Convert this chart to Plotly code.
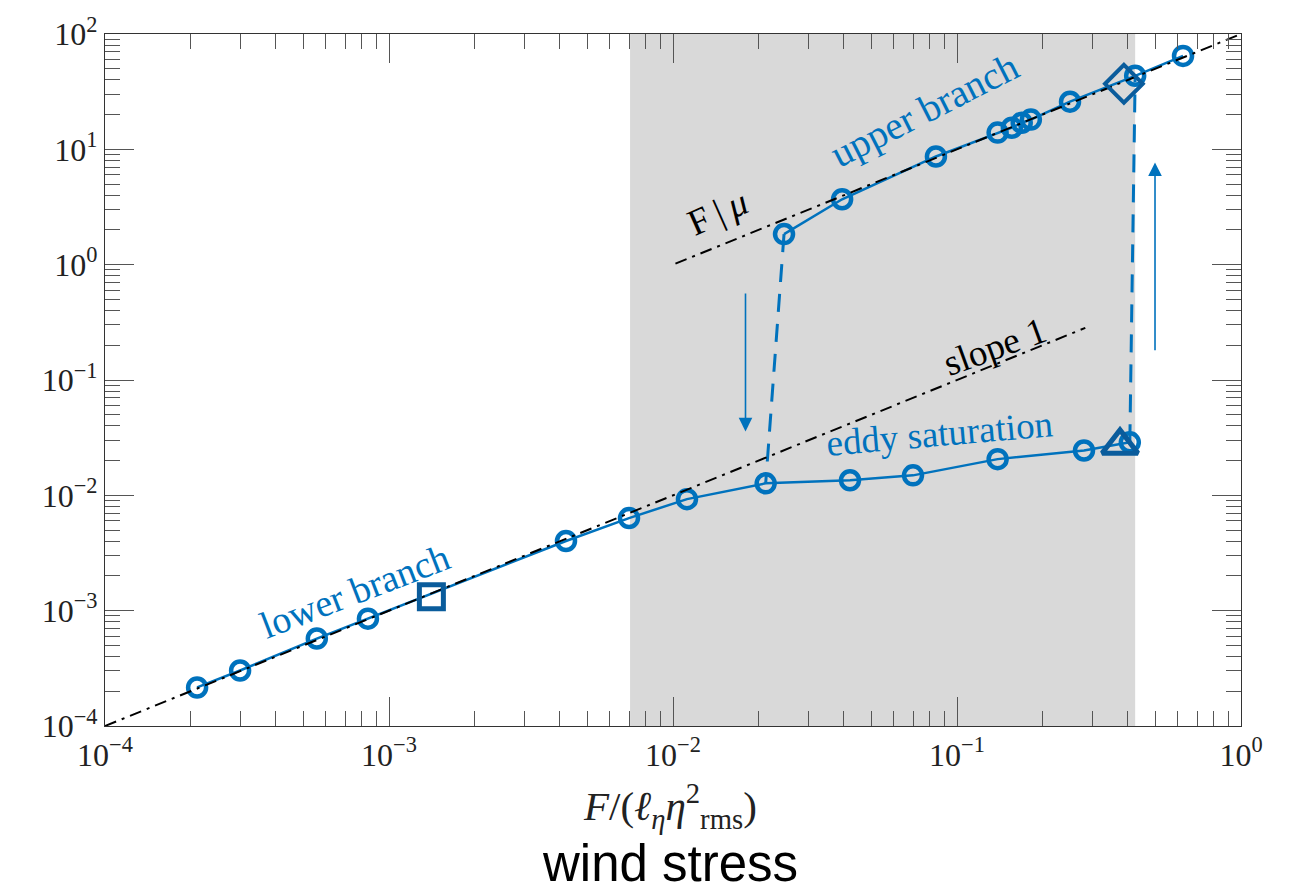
import numpy as np
import plotly.graph_objects as go

# ---------------- data ----------------
lower_x = [2.11e-4, 2.99e-4, 5.57e-4, 8.43e-4, 4.2e-3, 7.0e-3, 0.0112, 0.0212, 0.042, 0.070, 0.139, 0.28, 0.406]
lower_y = [2.16e-4, 3.03e-4, 5.73e-4, 8.53e-4, 4.02e-3, 6.35e-3, 9.27e-3, 0.0127, 0.0135, 0.0149, 0.0206, 0.0245, 0.0288]
upper_x = [0.0246, 0.0394, 0.0843, 0.139, 0.156, 0.169, 0.182, 0.25, 0.424, 0.625]
upper_y = [1.84, 3.69, 8.67, 13.96, 15.4, 17.0, 18.1, 25.9, 43.4, 64.6]
square_x, square_y = [1.41e-3], [1.32e-3]
triangle_x, triangle_y = [0.375], [0.0271]
diamond_x, diamond_y = [0.387], [37.0]

# transition (dashed) lines
drop_x, drop_y = [0.0246, 0.0212], [1.84, 0.0127]
jump_x, jump_y = [0.406, 0.424], [0.0288, 43.4]

# reference lines
mu = 0.01
fmu_x = [0.0102, 1.0]
slope1_x = [1e-4, 0.283]

# shaded bistable region
shade_x = [0.00706, 0.424]

# arrows (tail -> head)
arrow_down = dict(x=0.0180, y_tail=0.58, y_head=0.0358)
arrow_up = dict(x=0.498, y_tail=0.176, y_head=7.7)

tick_vals = [1e-4, 1e-3, 1e-2, 1e-1, 1e0]
tick_text_x = ["10<sup>−4</sup>", "10<sup>−3</sup>", "10<sup>−2</sup>", "10<sup>−1</sup>", "10<sup>0</sup>"]
ytick_vals = [1e-4, 1e-3, 1e-2, 1e-1, 1e0, 1e1, 1e2]
tick_text_y = ["10<sup>−4</sup>", "10<sup>−3</sup>", "10<sup>−2</sup>", "10<sup>−1</sup>", "10<sup>0</sup>", "10<sup>1</sup>", "10<sup>2</sup>"]

BLUE = "#0072BD"
DARK = "#0A5C9C"
SERIF = "Liberation Serif"

minor_x = [k * 10.0 ** e for e in range(-4, 0) for k in range(2, 10)]
minor_y = [k * 10.0 ** e for e in range(-4, 2) for k in range(2, 10)]

fig = go.Figure()

# dashed transitions
fig.add_trace(go.Scatter(x=drop_x, y=drop_y, mode="lines",
                         line=dict(color=BLUE, width=3, dash="18px,12px"), showlegend=False))
fig.add_trace(go.Scatter(x=jump_x, y=jump_y, mode="lines",
                         line=dict(color=BLUE, width=3, dash="18px,12px"), showlegend=False))

# branches
fig.add_trace(go.Scatter(x=lower_x, y=lower_y, mode="lines+markers",
                         line=dict(color=BLUE, width=2.5),
                         marker=dict(symbol="circle-open", size=18, color=BLUE, line=dict(width=4.5)),
                         showlegend=False))
fig.add_trace(go.Scatter(x=upper_x, y=upper_y, mode="lines+markers",
                         line=dict(color=BLUE, width=2.5),
                         marker=dict(symbol="circle-open", size=18, color=BLUE, line=dict(width=4.5)),
                         showlegend=False))

# reference lines
fig.add_trace(go.Scatter(x=fmu_x, y=[v / mu for v in fmu_x], mode="lines",
                         line=dict(color="black", width=2, dash="12px,6px,3px,6px"), showlegend=False))
fig.add_trace(go.Scatter(x=slope1_x, y=slope1_x, mode="lines",
                         line=dict(color="black", width=2, dash="12px,6px,3px,6px"), showlegend=False))

# special markers
fig.add_trace(go.Scatter(x=square_x, y=square_y, mode="markers",
                         marker=dict(symbol="square-open", size=24, color=DARK, line=dict(width=5)),
                         showlegend=False))
fig.add_trace(go.Scatter(x=triangle_x, y=triangle_y, mode="markers",
                         marker=dict(symbol="triangle-up-open", size=31, color=DARK, line=dict(width=5)),
                         showlegend=False))
fig.add_trace(go.Scatter(x=diamond_x, y=diamond_y, mode="markers",
                         marker=dict(symbol="diamond-open", size=29, color=DARK, line=dict(width=4)),
                         showlegend=False))

fig.add_shape(type="rect", xref="x", yref="paper", x0=shade_x[0], x1=shade_x[1], y0=0, y1=1,
              fillcolor="#D9D9D9", line=dict(width=0), layer="below")

L = np.log10
for a in (arrow_down, arrow_up):
    fig.add_annotation(x=L(a["x"]), y=L(a["y_head"]), ax=L(a["x"]), ay=L(a["y_tail"]),
                       xref="x", yref="y", axref="x", ayref="y", text="", showarrow=True,
                       arrowhead=2, arrowsize=1.7, arrowwidth=1.6, arrowcolor=BLUE)

labels = [
    ("upper branch", 0.0770, 22.0, -27, BLUE, 39),
    ("F\u2009|\u2009<i>μ</i>", 0.0143, 2.84, -24, "black", 37),
    ("slope 1", 0.136, 0.194, -20, "black", 37),
    ("eddy saturation", 0.0871, 0.0344, -5, BLUE, 37),
    ("lower branch", 7.59e-4, 1.49e-3, -21, BLUE, 38),
]
for t, x, y, ang, c, s in labels:
    fig.add_annotation(x=L(x), y=L(y), xref="x", yref="y", text=t, showarrow=False,
                       textangle=ang, xanchor="center", yanchor="middle",
                       font=dict(family=SERIF, size=s, color=c))

fig.add_annotation(x=0.497, y=-0.115, xref="paper", yref="paper", showarrow=False,
                   xanchor="center", yanchor="middle",
                   text="<i>F</i>/(<i>ℓ</i><sub><i>η</i></sub><i>η</i><sup>2</sup><sub>rms</sub>)",
                   font=dict(family=SERIF, size=41, color="#222"))
fig.add_annotation(x=0.497, y=-0.198, xref="paper", yref="paper", showarrow=False,
                   xanchor="center", yanchor="middle",
                   text="wind stress", font=dict(family="Liberation Sans", size=51, color="black"))

axis_common = dict(type="log", showgrid=False, zeroline=False, showline=True,
                   linecolor="#333", linewidth=1.2, mirror="allticks", ticks="inside",
                   ticklen=29, tickwidth=1.2, tickcolor="#555",
                   tickfont=dict(family=SERIF, size=32, color="#222"), tickmode="array")

fig.update_xaxes(**axis_common, range=[-4, 0], tickvals=tick_vals, ticktext=tick_text_x,
                 minor=dict(ticks="inside", ticklen=15, tickwidth=1.2, tickcolor="#555",
                            tickmode="array", tickvals=minor_x, showgrid=False))
fig.update_yaxes(**axis_common, range=[-4, 2], tickvals=ytick_vals, ticktext=tick_text_y,
                 minor=dict(ticks="inside", ticklen=15, tickwidth=1.2, tickcolor="#555",
                            tickmode="array", tickvals=minor_y, showgrid=False))

fig.update_layout(width=1291, height=894, margin=dict(l=105, r=50, t=31, b=168),
                  plot_bgcolor="white", paper_bgcolor="white", showlegend=False)

fig.write_html("out.html")
